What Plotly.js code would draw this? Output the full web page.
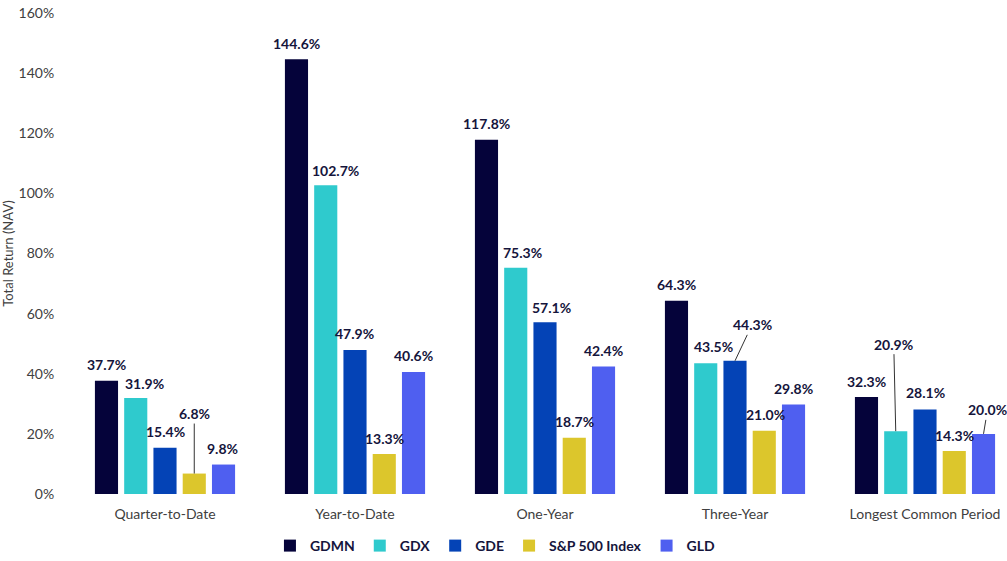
<!DOCTYPE html>
<html>
<head>
<meta charset="utf-8">
<script src="https://cdn.plot.ly/plotly-3.0.1.min.js"></script>
<style>
  html, body { margin: 0; padding: 0; background: #fff; }
  #chart { width: 1007px; height: 561px; }
</style>
</head>
<body>
<div id="chart"></div>
<script>
// Total return (NAV) by period for five funds / indices.

const categories = ["Quarter-to-Date", "Year-to-Date", "One-Year", "Three-Year", "Longest Common Period"];
const seriesNames = ["GDMN", "GDX", "GDE", "S&P 500 Index", "GLD"];

const gdmn = [37.7, 144.6, 117.8, 64.3, 32.3];
const gdx  = [31.9, 102.7, 75.3, 43.5, 20.9];
const gde  = [15.4, 47.9, 57.1, 44.3, 28.1];
const spx  = [6.8, 13.3, 18.7, 21.0, 14.3];
const gld  = [9.8, 40.6, 42.4, 29.8, 20.0];

const seriesValues = [gdmn, gdx, gde, spx, gld];
const seriesColors = ["#05033a", "#2fcacd", "#0443b6", "#dcc62c", "#4f5ff0"];

// label nudges in px [dx, dy] from the bar top; arrow=true draws a leader line
const labelNudge = [
    [[0, -16], [0, -16], [0, -16], [0, -16], [0, -15]],
    [[9, -15], [10, -15], [7, -15], [8, -17], [-2, -87, true]],
    [[0, -16], [-1, -17], [6, -15], [17, -36, true], [0, -17]],
    [[0, -60, true], [0, -16], [0, -16], [1, -16], [0, -16]],
    [[-1, -16], [0, -16], [0, -16], [0, -16], [4, -24, true]],
];

const BARGAP = 0.23;
const BARGROUPGAP = 0.21;
const CAT_PX = 190;
const M = { l: 70, r: 0, t: 13, b: 67 };
const plotW = 1007 - M.l - M.r;

const labelColor = "#15153c";
const axisText = "#404040";
const FONT = "Lato, 'Open Sans', sans-serif";

const traces = seriesNames.map((name, j) => ({
    type: "bar",
    name,
    x: categories,
    y: seriesValues[j],
    marker: { color: seriesColors[j] },
    hovertemplate: `%{x}  ${name}: %{y:.1f}%<extra></extra>`,
}));

const slot = (1 - BARGAP) / seriesNames.length;
const annotations = [];
seriesValues.forEach((vals, j) => {
    vals.forEach((v, i) => {
        const [dx, dy, arrow] = labelNudge[j][i];
        const base = {
            x: i + (j - (seriesNames.length - 1) / 2) * slot,
            y: v,
            xref: "x",
            yref: "y",
            text: v.toFixed(1) + "%",
            font: { family: FONT, size: 14, color: labelColor, weight: "bold" },
        };
        if (arrow) {
            annotations.push({
                ...base,
                showarrow: true,
                arrowhead: 0,
                arrowwidth: 1,
                arrowcolor: "#333333",
                standoff: 0,
                ax: dx,
                ay: dy,
            });
        } else {
            annotations.push({
                ...base,
                showarrow: false,
                xanchor: "center",
                yanchor: "middle",
                xshift: dx,
                yshift: -dy,
            });
        }
    });
});

const layout = {
    width: 1007,
    height: 561,
    margin: M,
    paper_bgcolor: "#ffffff",
    plot_bgcolor: "#ffffff",
    font: { family: FONT, size: 14, color: axisText },
    barmode: "group",
    bargap: BARGAP,
    bargroupgap: BARGROUPGAP,
    showlegend: true,
    legend: {
        orientation: "h",
        xref: "container",
        yref: "container",
        x: 0.492,
        xanchor: "center",
        y: 1 - 546 / 561,
        yanchor: "middle",
        font: { family: FONT, size: 14, color: labelColor, weight: "bold" },
        itemwidth: 30,
        traceorder: "normal",
    },
    xaxis: {
        type: "category",
        range: [-0.5, -0.5 + plotW / CAT_PX],
        showgrid: false,
        zeroline: false,
        showline: false,
        ticks: "outside",
        ticklen: 7,
        tickcolor: "rgba(0,0,0,0)",
        tickfont: { family: FONT, size: 14, color: axisText },
        automargin: false,
        fixedrange: true,
    },
    yaxis: {
        range: [0, 160],
        dtick: 20,
        ticksuffix: "%",
        showgrid: false,
        zeroline: false,
        showline: false,
        ticks: "outside",
        ticklen: 12,
        tickcolor: "rgba(0,0,0,0)",
        tickfont: { family: FONT, size: 14, color: axisText },
        title: { text: "Total Return (NAV)", font: { family: FONT, size: 13, color: axisText }, standoff: 6 },
        automargin: false,
        fixedrange: true,
    },
    annotations,
};

Plotly.newPlot("chart", traces, layout, { displayModeBar: false, staticPlot: true });
</script>
</body>
</html>
